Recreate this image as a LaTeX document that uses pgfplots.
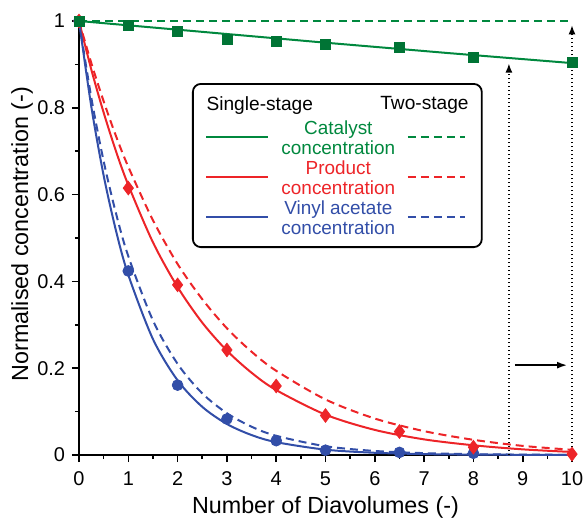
\documentclass[border=0pt]{standalone}
\usepackage{fontspec}
\setmainfont{Liberation Sans}
\usepackage{pgfplots}
\pgfplotsset{compat=1.18}
\usetikzlibrary{arrows.meta}

\definecolor{cgreen}{RGB}{0,136,62}
\definecolor{cred}{RGB}{237,36,40}
\definecolor{cblue}{RGB}{50,78,168}
\tikzset{dashstyle/.style={dash pattern=on 4bp off 2.5bp}}

\begin{document}
\begin{tikzpicture}
\begin{axis}[
  scale only axis, width=246.5bp, height=217bp,
  xmin=0, xmax=10, ymin=0, ymax=1,
  axis x line=bottom, axis y line=left,
  axis line style={-, line width=1bp},
  clip=false,
  xtick={0,1,2,3,4,5,6,7,8,9,10}, minor x tick num=1,
  ytick={0,0.2,0.4,0.6,0.8,1}, minor y tick num=1,
  yticklabels={0,0.2,0.4,0.6,0.8,1},
  tick align=outside, major tick length=3.5bp, minor tick length=2bp,
  tick style={black, line width=0.8bp},
  tick label style={font=\fontsize{10}{12}\selectfont},
  xticklabel style={yshift=-1.2bp},
  /pgf/number format/assume math mode=true,
  label style={font=\fontsize{11.7}{13}\selectfont},
  x label style={at={(axis description cs:0.5,-0.122)}, anchor=center},
  y label style={at={(axis description cs:-0.1156,0.509)}, anchor=center, rotate=0},
  xlabel={Number of Diavolumes (-)},
  ylabel={Normalised concentration (-)},
]
\coordinate (O) at (axis cs:0,0);
% single-stage fits (solid)
\addplot[cgreen, line width=1bp] coordinates {(0,1) (2.5,0.975) (5,0.950) (7.5,0.926) (10,0.903)};
\addplot[cred, line width=1bp, smooth] coordinates {
  (0,1) (0.25,0.888) (0.5,0.789) (0.75,0.700) (1,0.622) (1.5,0.490) (2,0.387)
  (2.5,0.305) (3,0.2405) (3.5,0.1896) (4,0.1496) (5,0.0930) (6,0.0578)
  (7,0.0360) (8,0.0224) (9,0.0130) (10,0.0070)};
\addplot[cblue, line width=1bp, smooth] coordinates {
  (0,1) (0.25,0.8025) (0.5,0.644) (0.75,0.517) (1,0.415) (1.5,0.267) (2,0.172)
  (2.5,0.111) (3,0.0714) (3.5,0.046) (4,0.0296) (5,0.0123) (6,0.0051)
  (7,0.0021) (8,0.0009) (10,0.0002)};
% two-stage (dashed)
\addplot[cgreen, line width=1bp, dashstyle] coordinates {(0,1) (10,1)};
\addplot[cred, line width=1bp, dashstyle, smooth] coordinates {
  (0,1) (0.25,0.903) (0.5,0.815) (0.75,0.735) (1,0.664) (1.5,0.541) (2,0.440)
  (2.5,0.359) (3,0.292) (3.5,0.238) (4,0.194) (5,0.128) (6,0.0840)
  (7,0.0550) (8,0.0350) (9,0.0210) (10,0.0120)};
\addplot[cblue, line width=1bp, dashstyle, smooth] coordinates {
  (0,1) (0.25,0.823) (0.5,0.677) (0.75,0.557) (1,0.458) (1.5,0.310) (2,0.210)
  (2.5,0.142) (3,0.0963) (3.5,0.0652) (4,0.0442) (5,0.0202) (6,0.0093)
  (7,0.0043) (8,0.0019) (9,0.0009) (10,0.0004)};
% measured points
\addplot[only marks, mark=*, mark size=2.7bp, cblue] coordinates {
  (0,1) (1,0.424) (2,0.161) (3,0.083) (4,0.033) (5,0.011) (6.5,0.006) (8,0.004)};
\addplot[only marks, mark=diamond*, mark size=3.4bp, cred] coordinates {
  (0,1) (1,0.615) (2,0.392) (3,0.242) (4,0.159) (5,0.091) (6.5,0.054) (8,0.018) (10,0.002)};
\addplot[only marks, mark=square*, mark size=2.5bp, cgreen!85!black] coordinates {
  (0,1) (1,0.989) (2,0.977) (3,0.958) (4,0.952) (5,0.946) (6.5,0.939) (8,0.916) (10,0.904)};

% annotations
\draw[line width=0.7bp, dash pattern=on 0.7bp off 1.3bp, -{Latex[length=4.5bp,width=3.5bp]}]
  (axis cs:8.72,0) -- (axis cs:8.72,0.902);
\draw[line width=0.7bp, dash pattern=on 0.7bp off 1.3bp, -{Latex[length=4.5bp,width=3.5bp]}]
  (axis cs:10,0) -- (axis cs:10,0.99);
\draw[line width=0.8bp, -{Latex[length=5bp,width=3.5bp]}]
  (axis cs:8.84,0.207) -- (axis cs:9.9,0.207);

% legend
\draw[rounded corners=4bp, line width=0.9bp, fill=white]
  (axis cs:2.31,0.479) rectangle (axis cs:8.17,0.855);
\node[anchor=west, inner sep=0pt, font=\fontsize{9.6}{11}\selectfont] at (axis cs:2.58,0.806) {Single-stage};
\node[anchor=east, inner sep=0pt, font=\fontsize{9.6}{11}\selectfont] at (axis cs:7.91,0.806) {Two-stage};
\draw[cgreen, line width=1bp] (axis cs:2.58,0.733) -- (axis cs:3.83,0.733);
\draw[cred, line width=1bp] (axis cs:2.58,0.640) -- (axis cs:3.83,0.640);
\draw[cblue, line width=1bp] (axis cs:2.58,0.548) -- (axis cs:3.83,0.548);
\draw[cgreen, line width=1bp, dashstyle] (axis cs:6.67,0.733) -- (axis cs:7.83,0.733);
\draw[cred, line width=1bp, dashstyle] (axis cs:6.67,0.640) -- (axis cs:7.83,0.640);
\draw[cblue, line width=1bp, dashstyle] (axis cs:6.67,0.548) -- (axis cs:7.83,0.548);
\node[align=center, inner sep=0pt, text=cgreen, font=\fontsize{9.5}{9.7}\selectfont] at (axis cs:5.26,0.731) {Catalyst\\concentration};
\node[align=center, inner sep=0pt, text=cred, font=\fontsize{9.5}{9.7}\selectfont] at (axis cs:5.26,0.639) {Product\\concentration};
\node[align=center, inner sep=0pt, text=cblue, font=\fontsize{9.5}{9.7}\selectfont] at (axis cs:5.26,0.547) {Vinyl acetate\\concentration};
\end{axis}
\pgfresetboundingbox
\path ([shift={(-39.5bp,-31.5bp)}]O) rectangle ++(292bp,259bp);
\end{tikzpicture}
\end{document}
